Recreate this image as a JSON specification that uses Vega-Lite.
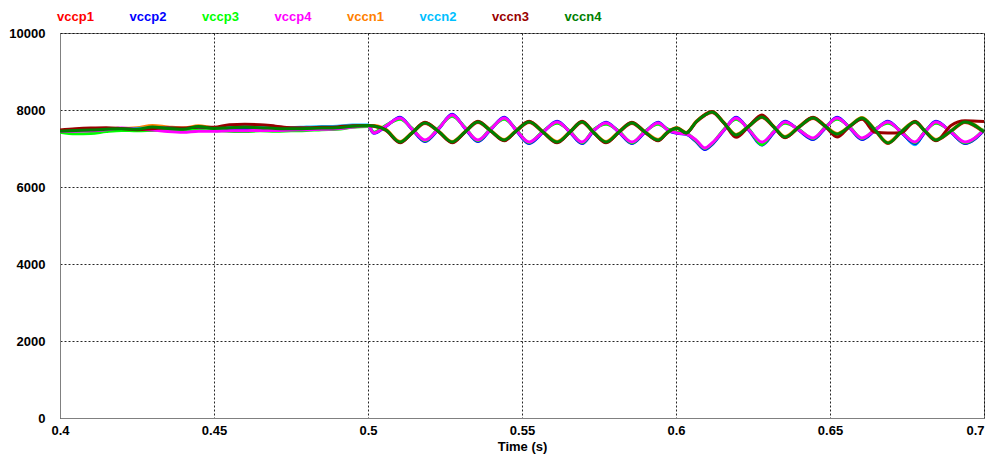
{
  "$schema": "https://vega.github.io/schema/vega-lite/v6.json",
  "width": 924,
  "height": 385,
  "autosize": {"type": "none"},
  "padding": {"left": 60, "top": 33, "right": 1, "bottom": 40},
  "background": "white",
  "data": {
    "values": [
      {"t":0.400,"vccp1":7460,"vccp2":7450,"vccp3":7420,"vccp4":7440,"vccn1":7470,"vccn2":7460,"vccn3":7480,"vccn4":7450},
      {"t":0.405,"vccp1":7470,"vccp2":7460,"vccp3":7380,"vccp4":7450,"vccn1":7490,"vccn2":7470,"vccn3":7510,"vccn4":7470},
      {"t":0.410,"vccp1":7480,"vccp2":7470,"vccp3":7390,"vccp4":7460,"vccn1":7500,"vccn2":7490,"vccn3":7530,"vccn4":7480},
      {"t":0.415,"vccp1":7500,"vccp2":7480,"vccp3":7440,"vccp4":7490,"vccn1":7520,"vccn2":7500,"vccn3":7540,"vccn4":7500},
      {"t":0.420,"vccp1":7510,"vccp2":7490,"vccp3":7470,"vccp4":7530,"vccn1":7520,"vccn2":7510,"vccn3":7520,"vccn4":7510},
      {"t":0.425,"vccp1":7500,"vccp2":7480,"vccp3":7460,"vccp4":7500,"vccn1":7540,"vccn2":7520,"vccn3":7490,"vccn4":7500},
      {"t":0.430,"vccp1":7510,"vccp2":7490,"vccp3":7470,"vccp4":7480,"vccn1":7600,"vccn2":7530,"vccn3":7510,"vccn4":7560},
      {"t":0.435,"vccp1":7520,"vccp2":7500,"vccp3":7480,"vccp4":7440,"vccn1":7560,"vccn2":7540,"vccn3":7540,"vccn4":7520},
      {"t":0.440,"vccp1":7510,"vccp2":7490,"vccp3":7460,"vccp4":7420,"vccn1":7530,"vccn2":7510,"vccn3":7530,"vccn4":7500},
      {"t":0.445,"vccp1":7540,"vccp2":7500,"vccp3":7480,"vccp4":7450,"vccn1":7590,"vccn2":7550,"vccn3":7560,"vccn4":7570},
      {"t":0.450,"vccp1":7530,"vccp2":7510,"vccp3":7470,"vccp4":7450,"vccn1":7540,"vccn2":7530,"vccn3":7550,"vccn4":7520},
      {"t":0.455,"vccp1":7560,"vccp2":7500,"vccp3":7450,"vccp4":7460,"vccn1":7570,"vccn2":7560,"vccn3":7620,"vccn4":7540},
      {"t":0.460,"vccp1":7570,"vccp2":7510,"vccp3":7440,"vccp4":7460,"vccn1":7580,"vccn2":7570,"vccn3":7630,"vccn4":7550},
      {"t":0.465,"vccp1":7560,"vccp2":7520,"vccp3":7460,"vccp4":7470,"vccn1":7570,"vccn2":7560,"vccn3":7620,"vccn4":7540},
      {"t":0.470,"vccp1":7540,"vccp2":7510,"vccp3":7450,"vccp4":7470,"vccn1":7550,"vccn2":7550,"vccn3":7580,"vccn4":7520},
      {"t":0.475,"vccp1":7530,"vccp2":7500,"vccp3":7460,"vccp4":7480,"vccn1":7540,"vccn2":7540,"vccn3":7540,"vccn4":7510},
      {"t":0.480,"vccp1":7540,"vccp2":7510,"vccp3":7470,"vccp4":7490,"vccn1":7540,"vccn2":7560,"vccn3":7540,"vccn4":7520},
      {"t":0.485,"vccp1":7550,"vccp2":7520,"vccp3":7490,"vccp4":7500,"vccn1":7550,"vccn2":7570,"vccn3":7550,"vccn4":7530},
      {"t":0.490,"vccp1":7560,"vccp2":7530,"vccp3":7500,"vccp4":7510,"vccn1":7560,"vccn2":7580,"vccn3":7560,"vccn4":7540},
      {"t":0.495,"vccp1":7590,"vccp2":7570,"vccp3":7550,"vccp4":7560,"vccn1":7590,"vccn2":7610,"vccn3":7590,"vccn4":7580},
      {"t":0.500,"vccp1":7600,"vccp2":7580,"vccp3":7570,"vccp4":7590,"vccn1":7600,"vccn2":7610,"vccn3":7600,"vccn4":7600},
      {"t":0.5019,"vccp1":7574,"vccp2":7393,"vccp3":7423,"vccp4":7403,"vccn1":7599,"vccn2":7413,"vccn3":7584,"vccn4":7584},
      {"t":0.5058,"vccp1":7471,"vccp2":7574,"vccp3":7604,"vccp4":7584,"vccn1":7496,"vccn2":7594,"vccn3":7481,"vccn4":7481},
      {"t":0.5104,"vccp1":7159,"vccp2":7812,"vccp3":7762,"vccp4":7792,"vccn1":7184,"vccn2":7782,"vccn3":7149,"vccn4":7169},
      {"t":0.5143,"vccp1":7393,"vccp2":7496,"vccp3":7526,"vccp4":7506,"vccn1":7418,"vccn2":7516,"vccn3":7403,"vccn4":7403},
      {"t":0.5185,"vccp1":7652,"vccp2":7181,"vccp3":7201,"vccp4":7221,"vccn1":7677,"vccn2":7191,"vccn3":7682,"vccn4":7662},
      {"t":0.5231,"vccp1":7419,"vccp2":7522,"vccp3":7552,"vccp4":7532,"vccn1":7444,"vccn2":7542,"vccn3":7429,"vccn4":7429},
      {"t":0.5273,"vccp1":7159,"vccp2":7890,"vccp3":7840,"vccp4":7870,"vccn1":7184,"vccn2":7860,"vccn3":7149,"vccn4":7169},
      {"t":0.5315,"vccp1":7419,"vccp2":7522,"vccp3":7552,"vccp4":7532,"vccn1":7444,"vccn2":7542,"vccn3":7429,"vccn4":7429},
      {"t":0.5357,"vccp1":7678,"vccp2":7181,"vccp3":7201,"vccp4":7221,"vccn1":7703,"vccn2":7191,"vccn3":7708,"vccn4":7688},
      {"t":0.5399,"vccp1":7445,"vccp2":7496,"vccp3":7526,"vccp4":7506,"vccn1":7470,"vccn2":7516,"vccn3":7455,"vccn4":7455},
      {"t":0.5442,"vccp1":7211,"vccp2":7812,"vccp3":7762,"vccp4":7792,"vccn1":7236,"vccn2":7782,"vccn3":7201,"vccn4":7221},
      {"t":0.5481,"vccp1":7445,"vccp2":7471,"vccp3":7501,"vccp4":7481,"vccn1":7470,"vccn2":7491,"vccn3":7455,"vccn4":7455},
      {"t":0.5523,"vccp1":7678,"vccp2":7129,"vccp3":7149,"vccp4":7169,"vccn1":7703,"vccn2":7139,"vccn3":7708,"vccn4":7688},
      {"t":0.5568,"vccp1":7419,"vccp2":7419,"vccp3":7449,"vccp4":7429,"vccn1":7444,"vccn2":7439,"vccn3":7429,"vccn4":7429},
      {"t":0.5614,"vccp1":7159,"vccp2":7708,"vccp3":7658,"vccp4":7688,"vccn1":7184,"vccn2":7678,"vccn3":7149,"vccn4":7169},
      {"t":0.5656,"vccp1":7419,"vccp2":7419,"vccp3":7449,"vccp4":7429,"vccn1":7444,"vccn2":7439,"vccn3":7429,"vccn4":7429},
      {"t":0.5695,"vccp1":7678,"vccp2":7129,"vccp3":7149,"vccp4":7169,"vccn1":7703,"vccn2":7139,"vccn3":7708,"vccn4":7688},
      {"t":0.5734,"vccp1":7393,"vccp2":7471,"vccp3":7501,"vccp4":7481,"vccn1":7418,"vccn2":7491,"vccn3":7403,"vccn4":7403},
      {"t":0.5773,"vccp1":7159,"vccp2":7682,"vccp3":7632,"vccp4":7662,"vccn1":7184,"vccn2":7652,"vccn3":7149,"vccn4":7169},
      {"t":0.5815,"vccp1":7419,"vccp2":7419,"vccp3":7449,"vccp4":7429,"vccn1":7444,"vccn2":7439,"vccn3":7429,"vccn4":7429},
      {"t":0.5857,"vccp1":7652,"vccp2":7129,"vccp3":7149,"vccp4":7169,"vccn1":7677,"vccn2":7139,"vccn3":7682,"vccn4":7662},
      {"t":0.5899,"vccp1":7419,"vccp2":7419,"vccp3":7449,"vccp4":7429,"vccn1":7444,"vccn2":7439,"vccn3":7429,"vccn4":7429},
      {"t":0.5942,"vccp1":7211,"vccp2":7682,"vccp3":7632,"vccp4":7662,"vccn1":7236,"vccn2":7652,"vccn3":7201,"vccn4":7221},
      {"t":0.5974,"vccp1":7419,"vccp2":7471,"vccp3":7501,"vccp4":7481,"vccn1":7444,"vccn2":7491,"vccn3":7429,"vccn4":7429},
      {"t":0.6003,"vccp1":7522,"vccp2":7393,"vccp3":7423,"vccp4":7403,"vccn1":7547,"vccn2":7413,"vccn3":7532,"vccn4":7532},
      {"t":0.6033,"vccp1":7393,"vccp2":7367,"vccp3":7397,"vccp4":7377,"vccn1":7418,"vccn2":7387,"vccn3":7403,"vccn4":7403},
      {"t":0.6065,"vccp1":7678,"vccp2":7181,"vccp3":7201,"vccp4":7221,"vccn1":7703,"vccn2":7191,"vccn3":7688,"vccn4":7688},
      {"t":0.6094,"vccp1":7860,"vccp2":6973,"vccp3":7000,"vccp4":7013,"vccn1":7885,"vccn2":6990,"vccn3":7880,"vccn4":7870},
      {"t":0.6117,"vccp1":7938,"vccp2":7103,"vccp3":7123,"vccp4":7143,"vccn1":7963,"vccn2":7113,"vccn3":7960,"vccn4":7948},
      {"t":0.6156,"vccp1":7652,"vccp2":7471,"vccp3":7501,"vccp4":7481,"vccn1":7677,"vccn2":7491,"vccn3":7662,"vccn4":7662},
      {"t":0.6195,"vccp1":7341,"vccp2":7812,"vccp3":7762,"vccp4":7792,"vccn1":7366,"vccn2":7782,"vccn3":7290,"vccn4":7351},
      {"t":0.6237,"vccp1":7574,"vccp2":7471,"vccp3":7501,"vccp4":7481,"vccn1":7599,"vccn2":7491,"vccn3":7584,"vccn4":7584},
      {"t":0.6279,"vccp1":7808,"vccp2":7090,"vccp3":7100,"vccp4":7169,"vccn1":7833,"vccn2":7139,"vccn3":7870,"vccn4":7818},
      {"t":0.6318,"vccp1":7548,"vccp2":7419,"vccp3":7449,"vccp4":7429,"vccn1":7573,"vccn2":7439,"vccn3":7558,"vccn4":7558},
      {"t":0.6354,"vccp1":7289,"vccp2":7708,"vccp3":7658,"vccp4":7688,"vccn1":7314,"vccn2":7678,"vccn3":7279,"vccn4":7299},
      {"t":0.6399,"vccp1":7548,"vccp2":7471,"vccp3":7501,"vccp4":7481,"vccn1":7573,"vccn2":7491,"vccn3":7558,"vccn4":7558},
      {"t":0.6445,"vccp1":7782,"vccp2":7233,"vccp3":7253,"vccp4":7273,"vccn1":7807,"vccn2":7243,"vccn3":7812,"vccn4":7792},
      {"t":0.6484,"vccp1":7574,"vccp2":7522,"vccp3":7552,"vccp4":7532,"vccn1":7599,"vccn2":7542,"vccn3":7584,"vccn4":7584},
      {"t":0.6523,"vccp1":7367,"vccp2":7812,"vccp3":7762,"vccp4":7792,"vccn1":7392,"vccn2":7782,"vccn3":7300,"vccn4":7377},
      {"t":0.6565,"vccp1":7574,"vccp2":7522,"vccp3":7552,"vccp4":7532,"vccn1":7599,"vccn2":7542,"vccn3":7584,"vccn4":7584},
      {"t":0.6604,"vccp1":7782,"vccp2":7233,"vccp3":7253,"vccp4":7273,"vccn1":7807,"vccn2":7243,"vccn3":7760,"vccn4":7792},
      {"t":0.6646,"vccp1":7471,"vccp2":7471,"vccp3":7501,"vccp4":7481,"vccn1":7496,"vccn2":7491,"vccn3":7420,"vccn4":7481},
      {"t":0.6688,"vccp1":7133,"vccp2":7708,"vccp3":7658,"vccp4":7688,"vccn1":7158,"vccn2":7678,"vccn3":7400,"vccn4":7143},
      {"t":0.6731,"vccp1":7419,"vccp2":7419,"vccp3":7449,"vccp4":7429,"vccn1":7444,"vccn2":7439,"vccn3":7410,"vccn4":7429},
      {"t":0.6776,"vccp1":7678,"vccp2":7129,"vccp3":7149,"vccp4":7169,"vccn1":7703,"vccn2":7100,"vccn3":7708,"vccn4":7688},
      {"t":0.6808,"vccp1":7445,"vccp2":7419,"vccp3":7449,"vccp4":7429,"vccn1":7470,"vccn2":7439,"vccn3":7455,"vccn4":7455},
      {"t":0.6844,"vccp1":7211,"vccp2":7708,"vccp3":7658,"vccp4":7688,"vccn1":7236,"vccn2":7678,"vccn3":7201,"vccn4":7221},
      {"t":0.6893,"vccp1":7445,"vccp2":7419,"vccp3":7449,"vccp4":7429,"vccn1":7470,"vccn2":7439,"vccn3":7600,"vccn4":7455},
      {"t":0.6938,"vccp1":7678,"vccp2":7129,"vccp3":7149,"vccp4":7169,"vccn1":7703,"vccn2":7139,"vccn3":7720,"vccn4":7688},
      {"t":0.7000,"vccp1":7419,"vccp2":7471,"vccp3":7501,"vccp4":7481,"vccn1":7444,"vccn2":7491,"vccn3":7700,"vccn4":7429}
    ]
  },
  "transform": [
    {"fold": ["vccp1","vccn1","vccn2","vccp2","vccp3","vccp4","vccn3","vccn4"], "as": ["series","value"]}
  ],
  "mark": {"type": "line", "interpolate": "monotone", "strokeWidth": 3, "clip": true},
  "encoding": {
    "x": {
      "field": "t", "type": "quantitative",
      "scale": {"domain": [0.4, 0.7], "nice": false, "zero": false},
      "axis": {
        "title": "Time (s)",
        "values": [0.4, 0.45, 0.5, 0.55, 0.6, 0.65, 0.7],
        "format": "~g",
        "labelFlush": false,
        "labelPadding": 6,
        "titlePadding": 3,
        "labelAlign": {"condition": {"test": "datum.value >= 0.69", "value": "right"}, "value": "center"}
      }
    },
    "y": {
      "field": "value", "type": "quantitative",
      "scale": {"domain": [0, 10000], "nice": false},
      "axis": {
        "title": null,
        "values": [0, 2000, 4000, 6000, 8000, 10000],
        "format": "d",
        "labelPadding": 15
      }
    },
    "color": {
      "field": "series", "type": "nominal",
      "scale": {
        "domain": ["vccp1","vccp2","vccp3","vccp4","vccn1","vccn2","vccn3","vccn4"],
        "range": ["#ff0000","#0000ff","#00ff00","#ff00ff","#ff8000","#00bfff","#990000","#008000"]
      },
      "legend": {
        "orient": "none",
        "legendX": -16,
        "legendY": -23,
        "direction": "horizontal",
        "columns": 8,
        "title": null,
        "symbolType": "circle",
        "symbolSize": 0,
        "symbolStrokeWidth": 0,
        "symbolOpacity": 0,
        "labelOffset": 0,
        "columnPadding": 22.5,
        "gridAlign": "all",
        "labelFont": "Liberation Sans",
        "labelFontSize": 13,
        "labelFontWeight": "bold",
        "labelLimit": 0,
        "labelColor": {"expr": "scale('color', datum.value)"}
      }
    }
  },
  "config": {
    "view": {"stroke": "#808080", "strokeWidth": 1},
    "axis": {
      "domainColor": "#808080",
      "domainWidth": 1,
      "grid": true,
      "gridColor": "#000000",
      "gridDash": [2, 2],
      "gridOpacity": 0.85,
      "ticks": false,
      "labelFont": "Liberation Sans",
      "labelFontSize": 13,
      "labelFontWeight": "bold",
      "labelColor": "#000000",
      "titleFont": "Liberation Sans",
      "titleFontSize": 13,
      "titleFontWeight": "bold",
      "titleColor": "#000000"
    }
  }
}
